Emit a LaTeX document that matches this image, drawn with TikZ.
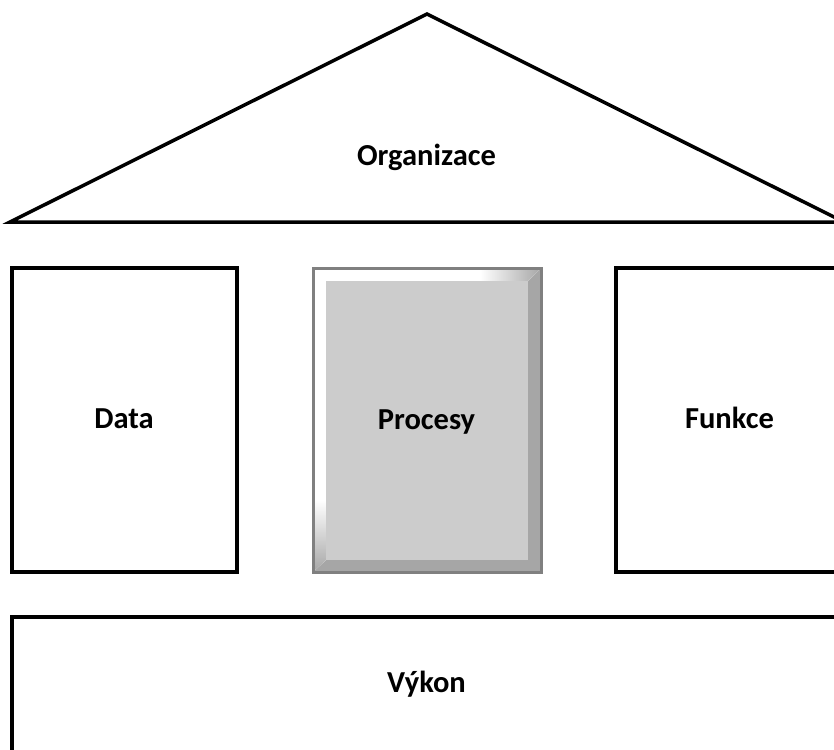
\documentclass[tikz,border=0pt]{standalone}
\usepackage{fontspec}
\setmainfont{Carlito}
\begin{document}
\begin{tikzpicture}[x=1pt,y=-1pt,
  lbl/.style={font=\bfseries\fontsize{30.5}{32}\selectfont, text=black, anchor=base, inner sep=0pt},
  boxline/.style={draw=black, line width=3.5pt, fill=white, inner sep=0pt, outer sep=0pt},
]
\definecolor{bevdark}{HTML}{A6A6A6}
\definecolor{bevframe}{HTML}{808080}
\definecolor{bevfill}{HTML}{CCCCCC}
\clip (0,0) rectangle (834,749);
\fill[white] (0,0) rectangle (834,749);
% roof
\draw[line width=3.5pt, line join=miter, fill=white] (10,222) -- (427,14) -- (844,222) -- cycle;
\node[lbl] (org) at (426.5,165) {Organizace};
% Data
\node[boxline, minimum width=225pt, minimum height=304pt] (data) at (124.5,420) {};
\node[lbl] (datat) at (124,428.5) {Data};
% Funkce
\node[boxline, minimum width=300pt, minimum height=304pt, anchor=north west] (funkce) at (616,268) {};
\node[lbl] (funkcet) at (729.5,428.5) {Funkce};
% Vykon
\node[boxline, minimum width=900pt, minimum height=200pt, anchor=north west] (vykon) at (12,617) {};
\node[lbl] (vykont) at (426.5,692) {Výkon};
% Procesy bevel box
\fill[bevdark] (313,268) rectangle (541,572);
\fill[white] (313,268) -- (541,268) -- (528,281) -- (326,281) -- (326,560) -- (313,572) -- cycle;
\shade[left color=white, right color=bevdark] (480,268) -- (541,268) -- (528,281) -- (480,281) -- cycle;
\shade[top color=white, bottom color=bevdark] (313,500) -- (326,500) -- (326,560) -- (313,572) -- cycle;
\fill[bevfill] (326,281) rectangle (528,560);
\node[draw=bevframe, line width=3pt, minimum width=228pt, minimum height=304pt, inner sep=0pt] (procesy) at (427,420) {};
\node[lbl] (procesyt) at (426.5,429.5) {Procesy};
\end{tikzpicture}
\end{document}
